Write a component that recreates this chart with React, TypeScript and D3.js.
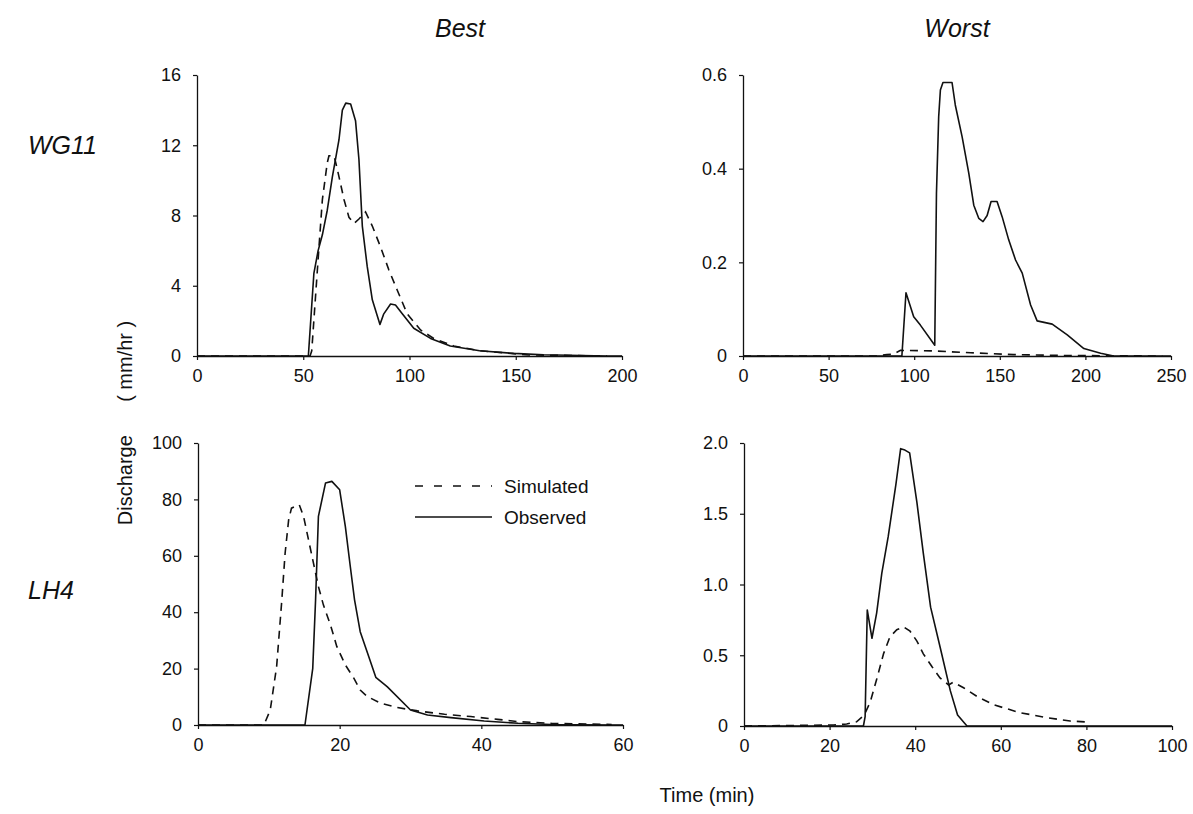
import { useEffect, useRef } from "react";
import * as d3 from "d3";

// [time (min), discharge (mm/hr)]
const wg11BestObserved: [number, number][] = [
  [0, 0], [52.4, 0], [55, 4.7], [57, 6.0], [59, 6.9], [61.3, 8.3], [63.7, 10.2], [66.8, 12.3],
  [68.4, 14.0], [70, 14.4], [72.3, 14.35], [74.6, 13.4], [76.2, 11.2], [77.8, 7.4], [80.1, 5.1],
  [82.5, 3.2], [86.1, 1.8], [87.9, 2.4], [91.1, 2.96], [93.4, 2.9], [96.6, 2.4], [102, 1.58],
  [109.9, 1.0], [119.2, 0.57], [133, 0.3], [149, 0.15], [163, 0.07], [193, 0], [200, 0],
];
const wg11BestSimulated: [number, number][] = [
  [0, 0], [53.2, 0], [54, 0.3], [55.9, 3.6], [57.4, 6.2], [59, 8.9], [61.3, 11.0], [62.1, 11.4],
  [64.5, 11.4], [66.1, 10.6], [69.2, 8.9], [71.5, 7.9], [73.9, 7.55], [76.2, 7.8], [79.3, 8.2],
  [82.5, 7.4], [86.4, 6.2], [90.3, 4.9], [94.2, 3.76], [98.9, 2.4], [105.2, 1.48], [111.4, 1.0],
  [120.8, 0.57], [133, 0.3], [156, 0.06], [193, 0],
];
const wg11WorstObserved: [number, number][] = [
  [0, 0], [92.8, 0], [95.2, 0.135], [99.7, 0.084], [103.6, 0.066], [112, 0.023], [113, 0.347],
  [114.3, 0.511], [115.3, 0.568], [116.8, 0.584], [122.1, 0.584], [124, 0.536], [128, 0.468],
  [131.9, 0.39], [134.8, 0.322], [137.7, 0.294], [140.2, 0.287], [142.6, 0.3], [144.9, 0.33],
  [148.4, 0.33], [151.4, 0.297], [155.2, 0.248], [159.2, 0.205], [163.1, 0.177], [168, 0.109],
  [171.8, 0.075], [180.6, 0.068], [189.4, 0.045], [199.1, 0.016], [208.9, 0.006], [216.5, 0], [250, 0],
];
const wg11WorstSimulated: [number, number][] = [
  [0, 0], [78, 0], [84, 0.003], [88, 0.004], [92, 0.012], [110, 0.011], [133, 0.007],
  [158, 0.003], [190, 0.001], [245, 0],
];
const lh4BestObserved: [number, number][] = [
  [0, 0], [15.1, 0], [16.2, 20.1], [16.6, 44.4], [17.0, 74], [18.0, 85.8], [18.9, 86.4], [20, 83.4],
  [20.8, 70.4], [21.5, 56.2], [22.1, 44.4], [22.9, 33.1], [24.1, 24.3], [25.1, 16.9], [26.7, 13.6],
  [30, 5.3], [32.4, 3.55], [35.7, 2.6], [40.4, 1.4], [45.2, 0.6], [49.9, 0.2], [58.4, 0], [60, 0],
];
const lh4BestSimulated: [number, number][] = [
  [0, 0], [9.3, 0], [10.2, 5.3], [11.1, 20.7], [11.8, 43.2], [12.3, 61], [12.8, 72.8], [13.2, 76.9],
  [14.3, 78.1], [14.9, 74], [15.6, 65.7], [16.3, 57.4], [17.0, 49.1], [17.7, 42.6], [18.7, 35.5],
  [19.6, 27.8], [20.8, 21.3], [22.0, 16.6], [22.9, 12.4], [23.9, 10.1], [25.8, 7.7], [28.1, 6.2],
  [31, 5.0], [34.8, 3.8], [38.5, 3.0], [42.3, 2.0], [45.2, 1.2], [49.9, 0.6], [58.4, 0.2],
];
const lh4WorstObserved: [number, number][] = [
  [0, 0], [27.9, 0], [28.3, 0.066], [28.8, 0.82], [29.9, 0.62], [31.0, 0.8], [32.2, 1.08],
  [33.7, 1.34], [35.5, 1.71], [36.6, 1.96], [37.6, 1.95], [38.7, 1.93], [40.4, 1.58], [41.9, 1.22],
  [43.6, 0.84], [45.8, 0.56], [48.2, 0.25], [49.9, 0.078], [52.1, 0], [100, 0],
];
const lh4WorstSimulated: [number, number][] = [
  [0, 0], [20.9, 0.007], [24, 0.014], [26.3, 0.03], [28.1, 0.078], [29.5, 0.17], [31, 0.33],
  [32.6, 0.51], [34.1, 0.63], [35.7, 0.68], [37.3, 0.7], [38.8, 0.67], [40.4, 0.6], [41.9, 0.51],
  [43.9, 0.42], [45.8, 0.34], [47.8, 0.29], [48.9, 0.31], [51.3, 0.27], [54.4, 0.21], [58.3, 0.15],
  [64.5, 0.094], [70.8, 0.059], [76.2, 0.035], [80.5, 0.028],
];

const columnTitles = ["Best", "Worst"];
const rowTitles = ["WG11", "LH4"];
const legendLabels = ["Simulated", "Observed"];

const wg11BestXTicks = [0, 50, 100, 150, 200];
const wg11BestYTicks = [0, 4, 8, 12, 16];
const wg11WorstXTicks = [0, 50, 100, 150, 200, 250];
const wg11WorstYTicks = [0, 0.2, 0.4, 0.6];
const lh4BestXTicks = [0, 20, 40, 60];
const lh4BestYTicks = [0, 20, 40, 60, 80, 100];
const lh4WorstXTicks = [0, 20, 40, 60, 80, 100];
const lh4WorstYTicks = [0, 0.5, 1.0, 1.5, 2.0];

const W = 1193;
const H = 814;
const FONT = "'Liberation Sans', Arial, sans-serif";
const INK = "#111";

type Panel = {
  left: number; right: number; top: number; bottom: number;
  xTicks: number[]; yTicks: number[]; yFmt: (v: number) => string;
  observed: [number, number][]; simulated: [number, number][];
  legend?: boolean;
};

export default function App() {
  const ref = useRef<SVGSVGElement | null>(null);

  useEffect(() => {
    if (!ref.current) return;
    const svg = d3.select(ref.current);
    svg.selectAll("*").remove();

    const plain = (v: number) => String(v);
    const oneDec = (v: number) => (v === 0 ? "0" : v.toFixed(1));

    const panels: Panel[] = [
      { left: 197, right: 622, top: 75, bottom: 356, xTicks: wg11BestXTicks, yTicks: wg11BestYTicks, yFmt: plain, observed: wg11BestObserved, simulated: wg11BestSimulated },
      { left: 743, right: 1171, top: 75, bottom: 356, xTicks: wg11WorstXTicks, yTicks: wg11WorstYTicks, yFmt: oneDec, observed: wg11WorstObserved, simulated: wg11WorstSimulated },
      { left: 198, right: 623, top: 443, bottom: 725, xTicks: lh4BestXTicks, yTicks: lh4BestYTicks, yFmt: plain, observed: lh4BestObserved, simulated: lh4BestSimulated, legend: true },
      { left: 744, right: 1172, top: 443, bottom: 726, xTicks: lh4WorstXTicks, yTicks: lh4WorstYTicks, yFmt: oneDec, observed: lh4WorstObserved, simulated: lh4WorstSimulated },
    ];

    panels.forEach((p) => {
      const x = d3.scaleLinear()
        .domain([p.xTicks[0], p.xTicks[p.xTicks.length - 1]])
        .range([p.left, p.right]);
      const y = d3.scaleLinear()
        .domain([p.yTicks[0], p.yTicks[p.yTicks.length - 1]])
        .range([p.bottom, p.top]);

      const line = d3.line<[number, number]>()
        .x(d => x(d[0]))
        .y(d => y(d[1]));

      // axes
      const xAxis = svg.append("g")
        .attr("transform", `translate(0,${p.bottom})`)
        .call(d3.axisBottom(x).tickValues(p.xTicks).tickSize(4).tickPadding(9).tickSizeOuter(0).tickFormat(d => plain(+d)));
      const yAxis = svg.append("g")
        .attr("transform", `translate(${p.left},0)`)
        .call(d3.axisLeft(y).tickValues(p.yTicks).tickSize(4).tickPadding(12).tickSizeOuter(0).tickFormat(d => p.yFmt(+d)));
      [xAxis, yAxis].forEach(a => {
        a.select(".domain").attr("stroke", INK).attr("stroke-width", 1.3);
        a.selectAll(".tick line").attr("stroke", INK).attr("stroke-width", 1.2);
        a.selectAll(".tick text")
          .attr("fill", INK)
          .style("font-family", FONT)
          .style("font-size", "18px");
      });

      // series
      svg.append("path")
        .datum(p.simulated)
        .attr("d", line)
        .attr("fill", "none")
        .attr("stroke", INK)
        .attr("stroke-width", 1.6)
        .attr("stroke-dasharray", "8,6");
      svg.append("path")
        .datum(p.observed)
        .attr("d", line)
        .attr("fill", "none")
        .attr("stroke", INK)
        .attr("stroke-width", 1.6)
        .attr("stroke-linejoin", "round");

      if (p.legend) {
        const lx = 415, ly = 486;
        legendLabels.forEach((label, i) => {
          const yy = ly + i * 31;
          svg.append("line")
            .attr("x1", lx).attr("x2", lx + 77)
            .attr("y1", yy).attr("y2", yy)
            .attr("stroke", INK)
            .attr("stroke-width", 1.4)
            .attr("stroke-dasharray", i === 0 ? "8,11" : null);
          svg.append("text")
            .attr("x", lx + 89).attr("y", yy + 7)
            .style("font-family", FONT)
            .style("font-size", "19px")
            .attr("fill", INK)
            .text(label);
        });
      }
    });

    // column / row titles
    const colCenters = [460, 957];
    columnTitles.forEach((t, i) => {
      svg.append("text")
        .attr("x", colCenters[i]).attr("y", 37)
        .attr("text-anchor", "middle")
        .style("font-family", FONT)
        .style("font-style", "italic")
        .style("font-size", "25px")
        .attr("fill", INK)
        .text(t);
    });
    const rowY = [154, 599];
    rowTitles.forEach((t, i) => {
      svg.append("text")
        .attr("x", 28).attr("y", rowY[i])
        .style("font-family", FONT)
        .style("font-style", "italic")
        .style("font-size", "25px")
        .attr("fill", INK)
        .text(t);
    });

    // shared axis titles
    svg.append("text")
      .attr("transform", "translate(132,423) rotate(-90)")
      .attr("text-anchor", "middle")
      .attr("xml:space", "preserve")
      .style("white-space", "pre")
      .style("font-family", FONT)
      .style("font-size", "20px")
      .attr("fill", INK)
      .text("Discharge      ( mm/hr )");
    svg.append("text")
      .attr("x", 707).attr("y", 802)
      .attr("text-anchor", "middle")
      .style("font-family", FONT)
      .style("font-size", "20px")
      .attr("fill", INK)
      .text("Time (min)");
  }, []);

  return (
    <svg
      ref={ref}
      width={W}
      height={H}
      viewBox={`0 0 ${W} ${H}`}
      style={{ position: "absolute", left: 0, top: 0, background: "#fff" }}
    />
  );
}
